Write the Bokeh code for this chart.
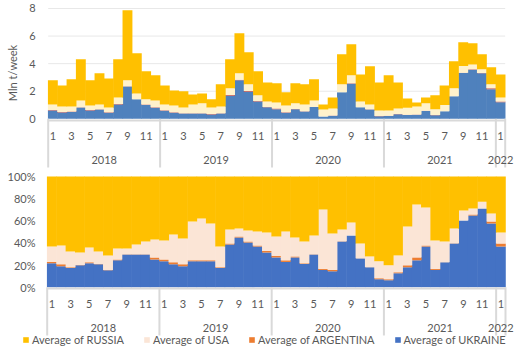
import numpy as np
from bokeh.plotting import figure
from bokeh.layouts import column
from bokeh.models import ColumnDataSource, Range1d, Legend, LegendItem
from bokeh.core.properties import value
from bokeh.embed import file_html
from bokeh.resources import INLINE

# ---------------- data ----------------
years = [2018] * 12 + [2019] * 12 + [2020] * 12 + [2021] * 12 + [2022]
months = list(range(1, 13)) * 4 + [1]
year_labels = ["2018", "2019", "2020", "2021", "2022"]

# top panel, Mln t/week
ukraine = [0.61, 0.46, 0.50, 0.82, 0.61, 0.68, 0.44, 1.04, 2.35, 1.41, 1.00, 0.80,
           0.58, 0.44, 0.38, 0.39, 0.39, 0.32, 0.38, 1.68, 2.79, 1.97, 1.26, 0.83,
           0.70, 0.44, 0.69, 0.53, 0.85, 0.16, 0.22, 1.92, 2.55, 0.83, 0.68, 0.19,
           0.20, 0.33, 0.27, 0.29, 0.57, 0.26, 0.54, 1.63, 3.33, 3.56, 3.31, 2.15,
           1.20]
argentina = [0.03, 0.04, 0.03, 0.01, 0.02, 0.01, 0.03, 0.03, 0.01, 0.01, 0.04, 0.04,
             0.04, 0.03, 0.02, 0.02, 0.02, 0.02, 0.02, 0.04, 0.04, 0.04, 0.03, 0.03,
             0.04, 0.03, 0.02, 0.02, 0.01, 0.01, 0.02, 0.01, 0.03, 0.01, 0.01, 0.02,
             0.03, 0.02, 0.03, 0.03, 0.02, 0.02, 0.01, 0.01, 0.01, 0.04, 0.01, 0.06,
             0.06]
usa = [0.40, 0.40, 0.37, 0.50, 0.34, 0.35, 0.35, 0.48, 0.43, 0.42, 0.37, 0.49,
       0.42, 0.50, 0.42, 0.63, 0.71, 0.48, 0.50, 0.49, 0.47, 0.49, 0.41, 0.40,
       0.45, 0.50, 0.41, 0.49, 0.47, 0.51, 0.51, 0.57, 0.57, 0.42, 0.35, 0.40,
       0.38, 0.40, 0.50, 0.58, 0.53, 0.42, 0.45, 0.57, 0.49, 0.33, 0.28, 0.29,
       0.29]
russia = [1.75, 1.52, 1.96, 2.99, 1.82, 2.26, 2.11, 2.77, 5.09, 2.91, 2.03, 1.82,
          1.38, 1.09, 1.17, 0.73, 0.72, 0.59, 1.60, 2.11, 2.91, 2.32, 1.74, 1.38,
          1.38, 0.95, 1.45, 1.46, 1.53, 0.36, 0.80, 2.18, 2.26, 1.96, 2.77, 2.03,
          2.54, 1.89, 0.68, 0.29, 0.43, 1.00, 1.42, 1.96, 1.72, 1.55, 1.08, 1.23,
          1.67]

# bottom panel, share in %
ukraine_pct = [21.6, 18.9, 17.4, 19.8, 21.6, 20.7, 15.3, 24.3, 29.6, 29.6, 29.6, 25.1,
               23.4, 20.7, 18.9, 23.4, 23.4, 23.4, 17.4, 38.6, 44.9, 40.4, 36.8, 31.4,
               26.9, 22.8, 26.9, 21.0, 29.6, 15.6, 14.4, 41.3, 46.7, 26.0, 18.0, 7.2,
               6.3, 12.6, 18.0, 24.3, 36.8, 15.6, 22.5, 39.5, 60.2, 64.7, 71.0, 57.5,
               36.8]
argentina_pct = [1.2, 1.8, 0.6, 0.2, 0.9, 0.3, 0.3, 0.8, 0.1, 0.1, 0.1, 1.8,
                 1.7, 1.8, 1.8, 0.9, 0.9, 0.9, 0.6, 0.9, 0.9, 0.9, 0.9, 1.2,
                 1.5, 1.5, 0.9, 0.6, 0.1, 0.9, 1.2, 0.1, 0.1, 0.1, 0.1, 0.9,
                 0.9, 0.9, 1.8, 2.6, 0.9, 0.9, 0.1, 0.1, 0.1, 0.9, 0.1, 1.8,
                 2.7]
usa_pct = [14.0, 17.0, 14.3, 11.4, 13.4, 11.3, 13.1, 9.9, 5.3, 8.9, 11.6, 16.2,
           17.1, 25.1, 23.3, 35.0, 37.7, 33.2, 18.8, 12.6, 7.2, 9.9, 12.6, 16.8,
           17.4, 26.0, 17.1, 19.7, 17.0, 53.6, 32.9, 10.7, 11.6, 13.4, 9.7, 15.3,
           12.6, 15.2, 35.0, 47.7, 34.2, 25.7, 18.7, 13.4, 8.9, 5.4, 6.1, 7.2,
           9.9]
russia_pct = [63.2, 62.3, 67.7, 68.6, 64.1, 67.7, 71.3, 65.0, 65.0, 61.4, 58.7, 56.9,
              57.8, 52.4, 56.0, 40.7, 38.0, 42.5, 63.2, 47.9, 47.0, 48.8, 49.7, 50.6,
              54.2, 49.7, 55.1, 58.7, 53.3, 29.9, 51.5, 47.9, 41.6, 60.5, 72.2, 76.6,
              80.2, 71.3, 45.2, 25.4, 28.1, 57.8, 58.7, 47.0, 30.8, 29.0, 22.8, 33.5,
              50.6]

top_ticks = [0, 2, 4, 6, 8]
top_tick_labels = ["0", "2", "4", "6", "8"]
pct_ticks = [0, 20, 40, 60, 80, 100]
pct_tick_labels = ["0%", "20%", "40%", "60%", "80%", "100%"]

series_names = ["Average of UKRAINE", "Average of ARGENTINA", "Average of USA", "Average of RUSSIA"]
top_colors = ["#4F81BD", "#C0504D", "#FFF2CC", "#FFC000"]
bot_colors = ["#4472C4", "#ED7D31", "#FBE5D6", "#FFC000"]

FONT = value("Lato")
TXT = "#595959"
SEP = "#D9D9D9"

n = len(months)
xc = [i + 0.5 for i in range(n)]
odd_x = [xc[i] for i in range(n) if months[i] % 2 == 1]
odd_lbl = [str(months[i]) for i in range(n) if months[i] % 2 == 1]
year_x, year_sep = [], [0]
for yl in year_labels:
    idx = [i for i in range(n) if str(years[i]) == yl]
    year_x.append((idx[0] + idx[-1] + 1) / 2)
    year_sep.append(idx[-1] + 1)


def base_fig(height, x0, x1, y0, y1):
    p = figure(width=531, height=height, x_range=Range1d(x0, x1), y_range=Range1d(y0, y1),
               output_backend="svg", toolbar_location=None, x_axis_type=None, y_axis_type=None,
               min_border=0, outline_line_color=None, background_fill_color="white")
    return p


# ---------------- top panel ----------------
pw1 = 9.327
p1 = base_fig(170, -47.7 / pw1, 49 + 26.3 / pw1, -3.75, 8.58)
src1 = ColumnDataSource(dict(x=xc, ukr=ukraine, arg=argentina, usa=usa, rus=russia))
# gridlines
p1.segment(x0=[0] * 4, x1=[n] * 4, y0=top_ticks[1:], y1=top_ticks[1:], line_color="#E8E8E8", line_width=1)
p1.vbar_stack(["ukr", "arg", "usa", "rus"], x="x", width=1.06, source=src1,
              fill_color=top_colors, line_color=None)
# axis line + separators
p1.segment(x0=[0], x1=[n], y0=[-0.12], y1=[-0.12], line_color=SEP, line_width=2)
p1.segment(x0=year_sep, x1=year_sep, y0=[0] * len(year_sep), y1=[-3.54] * len(year_sep),
           line_color=SEP, line_width=2)
p1.text(x=[-1.36] * 5, y=top_ticks, text=top_tick_labels, text_font=FONT, text_font_size="11px",
        text_color=TXT, text_align="right", text_baseline="middle")
p1.text(x=odd_x, y=[-1.28] * len(odd_x), text=odd_lbl, text_font=FONT, text_font_size="11px",
        text_color=TXT, text_align="center", text_baseline="middle")
p1.text(x=year_x, y=[-3.0] * len(year_x), text=year_labels, text_font=FONT, text_font_size="11px",
        text_color=TXT, text_align="center", text_baseline="middle")
p1.text(x=[-3.83], y=[3.32], text=["Mln t/week"], angle=np.pi / 2, text_font=FONT,
        text_font_size="11px", text_color=TXT, text_align="center", text_baseline="middle")

# ---------------- bottom panel ----------------
pw2 = 9.353
ps = 1.107
p2 = base_fig(184, -46.7 / pw2, 49 + 26 / pw2, -(184 - 116.7) / ps, 100 + 6 / ps)
src2 = ColumnDataSource(dict(x=xc, ukr=ukraine_pct, arg=argentina_pct, usa=usa_pct, rus=russia_pct))
rs = p2.vbar_stack(["ukr", "arg", "usa", "rus"], x="x", width=1.06, source=src2,
                   fill_color=bot_colors, line_color=None)
p2.segment(x0=[0], x1=[n], y0=[-1.2], y1=[-1.2], line_color=SEP, line_width=2)
p2.segment(x0=year_sep, x1=year_sep, y0=[0] * len(year_sep), y1=[-43.6] * len(year_sep),
           line_color=SEP, line_width=2)
p2.text(x=[-1.25] * 6, y=pct_ticks, text=pct_tick_labels, text_font=FONT, text_font_size="11px",
        text_color=TXT, text_align="right", text_baseline="middle")
p2.text(x=odd_x, y=[-15.6] * len(odd_x), text=odd_lbl, text_font=FONT, text_font_size="11px",
        text_color=TXT, text_align="center", text_baseline="middle")
p2.text(x=year_x, y=[-36.9] * len(year_x), text=year_labels, text_font=FONT, text_font_size="11px",
        text_color=TXT, text_align="center", text_baseline="middle")

legend = Legend(items=[LegendItem(label=series_names[k], renderers=[rs[k]]) for k in [3, 2, 1, 0]],
                orientation="horizontal", location=(22, 8), spacing=19, glyph_width=7, glyph_height=7,
                label_standoff=3, padding=0, margin=0, label_height=12,
                label_text_font="Lato", label_text_font_size="11px", label_text_color=TXT,
                border_line_color=None, background_fill_alpha=0)
p2.add_layout(legend)

layout = column(p1, p2, spacing=0)
open("out.html", "w").write(file_html(layout, INLINE))
